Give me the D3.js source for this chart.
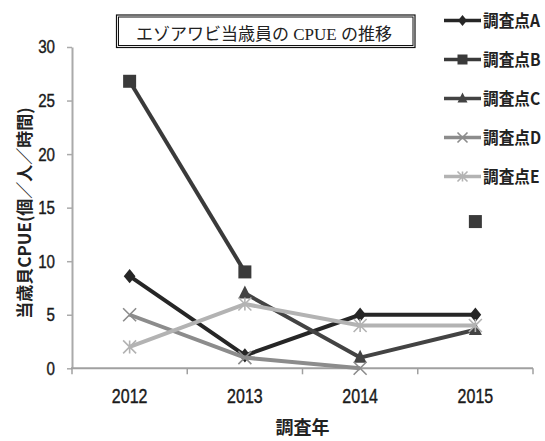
<!DOCTYPE html>
<html>
<head>
<meta charset="utf-8">
<script src="https://d3js.org/d3.v7.min.js"></script>
<style>
  html, body { margin: 0; padding: 0; background: #fff; }
  svg { display: block; }
</style>
</head>
<body>
<script>
// Survey years (x categories)
const years = ["2012", "2013", "2014", "2015"];
// Series names and CPUE values (個/人/時間); null = no survey
const seriesNames = ["調査点A", "調査点B", "調査点C", "調査点D", "調査点E"];
const valuesA = [8.6, 1.2, 5, 5];
const valuesB = [26.8, 9, null, 13.7];
const valuesC = [null, 7, 1, 3.6];
const valuesD = [5, 1, 0, null];
const valuesE = [2, 6, 4, 4];
const yTicks = [0, 5, 10, 15, 20, 25, 30];

const chartTitle = "エゾアワビ当歳員の CPUE の推移";
const yTitle = "当歳貝CPUE(個／人／時間)";
const xTitle = "調査年";

const W = 545, H = 441;
const svg = d3.select("body").append("svg").attr("width", W).attr("height", H);

const x = d3.scaleBand().domain(years).range([72, 533]);
const y = d3.scaleLinear().domain([0, 30]).range([368.3, 47]);

const sans = "'Liberation Sans', Arial, sans-serif";
const cjkBold = "'Noto Sans CJK JP', sans-serif";
const SQ = 0.82; // horizontal squeeze for the condensed numerals

// Axes
const yAxis = svg.append("g").attr("transform", "translate(72,0)")
  .call(d3.axisLeft(y).tickValues(yTicks).tickSize(5).tickPadding(12).tickSizeOuter(0));
yAxis.select(".domain").attr("stroke", "#aaa").attr("stroke-width", 2);
yAxis.selectAll(".tick line").attr("stroke", "#aaa").attr("stroke-width", 1.5);
yAxis.selectAll(".tick text")
  .attr("font-family", sans).attr("font-size", 18.5).attr("fill", "#1a1a1a")
  .attr("stroke", "#1a1a1a").attr("stroke-width", 0.4)
  .attr("x", -17 / SQ).attr("transform", `scale(${SQ},1)`);

const xAxisG = svg.append("g").attr("transform", `translate(0,${y(0)})`);
xAxisG.append("line").attr("x1", 71).attr("x2", 533).attr("stroke", "#a0a0a0").attr("stroke-width", 2);
const bounds = years.map(d => x(d)).concat([x.range()[1]]);
xAxisG.selectAll("line.tk").data(bounds).join("line").attr("class", "tk")
  .attr("x1", d => d).attr("x2", d => d).attr("y1", 0).attr("y2", 6)
  .attr("stroke", "#a0a0a0").attr("stroke-width", 1.5);
xAxisG.selectAll("text").data(years).join("text")
  .attr("transform", d => `translate(${x(d) + x.bandwidth() / 2},35) scale(${SQ},1)`)
  .attr("text-anchor", "middle").attr("font-family", sans).attr("font-size", 19.5)
  .attr("fill", "#1a1a1a").attr("stroke", "#1a1a1a").attr("stroke-width", 0.4)
  .text(d => d);

// Axis titles
svg.append("text").attr("transform", "translate(31,213) rotate(-90)")
  .attr("text-anchor", "middle").attr("font-family", cjkBold).attr("font-weight", "bold")
  .attr("font-size", 17).attr("fill", "#222").text(yTitle);
svg.append("text").attr("x", 302.5).attr("y", 434)
  .attr("text-anchor", "middle").attr("font-family", cjkBold).attr("font-weight", "bold")
  .attr("font-size", 18).attr("fill", "#222").text(xTitle);

// Chart title in a double-ruled box
const tb = svg.append("g");
tb.append("rect").attr("x", 116.5).attr("y", 15).attr("width", 298.5).attr("height", 32.5)
  .attr("fill", "#fff").attr("stroke", "#111").attr("stroke-width", 1.2);
tb.append("rect").attr("x", 118.5).attr("y", 17).attr("width", 294.5).attr("height", 28.5)
  .attr("fill", "none").attr("stroke", "#111").attr("stroke-width", 1);
tb.append("text").attr("x", 264).attr("y", 39.5).attr("text-anchor", "middle")
  .attr("font-family", "'Liberation Serif', 'Noto Sans CJK JP', serif")
  .attr("font-size", 17).attr("fill", "#222").text(chartTitle);

// Series styling
const series = [
  { name: seriesNames[0], values: valuesA, color: "#262626", marker: "diamond" },
  { name: seriesNames[1], values: valuesB, color: "#3a3a3a", marker: "square" },
  { name: seriesNames[2], values: valuesC, color: "#434343", marker: "triangle" },
  { name: seriesNames[3], values: valuesD, color: "#8c8c8c", marker: "cross" },
  { name: seriesNames[4], values: valuesE, color: "#b3b3b3", marker: "star" }
];

function drawMarker(g, type, cx, cy, color, s) {
  if (type === "diamond") {
    g.append("path").attr("d", `M${cx},${cy - s * 0.55}L${cx + s * 0.45},${cy}L${cx},${cy + s * 0.55}L${cx - s * 0.45},${cy}Z`)
      .attr("fill", color);
  } else if (type === "square") {
    g.append("rect").attr("x", cx - s / 2).attr("y", cy - s / 2).attr("width", s).attr("height", s)
      .attr("fill", color);
  } else if (type === "triangle") {
    g.append("path").attr("d", `M${cx},${cy - s * 0.6}L${cx + s * 0.5},${cy + s * 0.4}L${cx - s * 0.5},${cy + s * 0.4}Z`)
      .attr("fill", color);
  } else if (type === "cross") {
    const h = s / 2;
    g.append("path").attr("d", `M${cx - h},${cy - h}L${cx + h},${cy + h}M${cx - h},${cy + h}L${cx + h},${cy - h}`)
      .attr("stroke", color).attr("stroke-width", 1.6).attr("fill", "none");
  } else if (type === "star") {
    const h = s / 2;
    g.append("path").attr("d", `M${cx - h},${cy - h}L${cx + h},${cy + h}M${cx - h},${cy + h}L${cx + h},${cy - h}M${cx},${cy - h}L${cx},${cy + h}`)
      .attr("stroke", color).attr("stroke-width", 1.6).attr("fill", "none");
  }
}

const line = d3.line()
  .defined(d => d.v != null)
  .x(d => x(d.year) + x.bandwidth() / 2)
  .y(d => y(d.v));

const plot = svg.append("g");
series.forEach(s => {
  const pts = years.map((yr, i) => ({ year: yr, v: s.values[i] }));
  const g = plot.append("g");
  g.append("path").datum(pts).attr("d", line).attr("fill", "none")
    .attr("stroke", s.color).attr("stroke-width", 4).attr("stroke-linejoin", "round");
  pts.filter(d => d.v != null).forEach(d => {
    drawMarker(g, s.marker, x(d.year) + x.bandwidth() / 2, y(d.v), s.color, 13);
  });
});

// Legend
const legend = svg.append("g");
series.forEach((s, i) => {
  const cy = 20.5 + i * 39;
  const g = legend.append("g");
  g.append("line").attr("x1", 444).attr("x2", 481).attr("y1", cy).attr("y2", cy)
    .attr("stroke", s.color).attr("stroke-width", 3.5);
  drawMarker(g, s.marker, 462.5, cy, s.color, 10);
  g.append("text").attr("transform", `translate(483,${cy + 6}) scale(0.92,1)`)
    .attr("font-family", cjkBold).attr("font-weight", "bold")
    .attr("font-size", 17).attr("fill", "#222").text(s.name);
});
</script>
</body>
</html>
